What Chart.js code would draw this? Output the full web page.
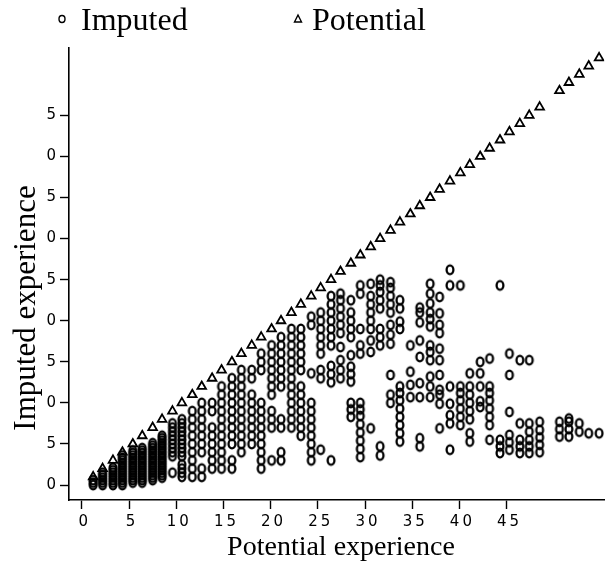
<!DOCTYPE html>
<html>
<head>
<meta charset="utf-8">
<script src="https://cdn.jsdelivr.net/npm/chart.js@4/dist/chart.umd.min.js"></script>
<style>
  body { margin: 0; background: #fff; }
  canvas { display: block; }
</style>
</head>
<body>
<canvas id="expChart" width="611" height="572"></canvas>
<script>
// x position of each column (potential experience)
const colX = [1.2, 2.2, 3.3, 4.3, 5.4, 6.4, 7.5, 8.5, 9.6, 10.6,
    11.7, 12.7, 13.8, 14.8, 15.9, 16.9, 18.0, 19.0, 20.1, 21.1,
    22.2, 23.2, 24.3, 25.3, 26.4, 27.4, 28.5, 29.5, 30.6, 31.6,
    32.7, 33.7, 34.8, 35.8, 36.9, 37.9, 39.0, 40.1, 41.1, 42.2,
    43.2, 44.3, 45.3, 46.4, 47.4, 48.5, 50.6, 51.6, 52.7, 53.7, 54.8];

// triangles: potential experience on the y axis
const potentialY = [1, 2, 3, 4, 5, 6, 7, 8, 9, 10,
    11, 12, 13, 14, 15, 16, 17, 18, 19, 20,
    21, 22, 23, 24, 25, 26, 27, 28, 29, 30,
    31, 32, 33, 34, 35, 36, 37, 38, 39, 40,
    41, 42, 43, 44, 45, 46, 48, 49, 50, 51, 52];

// circles: imputed experience values in each column
const imputedY = [
    [0, 0.3, 0.6],
    [0, 0.3, 0.6, 0.9, 1.2, 1.5],
    [0, 0.3, 0.6, 0.9, 1.2, 1.5, 1.8, 2.1],
    [0, 0.3, 0.6, 0.9, 1.2, 1.5, 1.8, 2.1, 2.4, 2.7, 3, 3.3, 3.6],
    [0.3, 0.6, 0.9, 1.2, 1.5, 1.8, 2.1, 2.4, 2.7, 3, 3.3, 3.6, 3.9, 4.2],
    [0.3, 0.6, 0.9, 1.2, 1.5, 1.8, 2.1, 2.4, 2.7, 3, 3.3, 3.6, 3.9, 4.2, 4.5],
    [0.6, 0.9, 1.2, 1.5, 1.8, 2.1, 2.4, 2.7, 3, 3.3, 3.6, 3.9, 4.2, 4.5, 4.8, 5.1],
    [0.9, 1.2, 1.5, 1.8, 2.1, 2.4, 2.7, 3, 3.3, 3.6, 3.9, 4.2, 4.5, 4.8, 5.1, 5.4, 5.7, 6],
    [1.5, 3.5, 4, 4.5, 5, 5.5, 6, 6.5, 7, 7.5],
    [1, 1.5, 2, 2.5, 3.5, 4, 4.5, 5, 5.5, 6, 6.5, 7, 7.5, 8],
    [1, 2, 3, 4, 5, 6, 7, 8, 9],
    [1, 2, 4, 5, 6, 7, 8, 9, 10],
    [2, 3, 4, 5, 6, 7, 9, 10],
    [2, 3, 4, 5, 6, 7, 8, 9, 10, 11, 12],
    [2, 3, 5, 6, 7, 8, 9, 10, 11, 12, 13],
    [4, 5, 6, 7, 8, 9, 10, 11, 12, 13, 14],
    [5, 6, 7, 8, 9, 10, 11, 13, 14],
    [2, 3, 4, 5, 6, 7, 8, 9, 10, 14, 15, 16],
    [3, 7, 8, 9, 11, 12, 13, 14, 15, 16, 17],
    [3, 4, 7, 8, 12, 13, 14, 15, 16, 17, 18],
    [7, 8, 9, 10, 11, 12, 13, 14, 15, 16, 17, 18, 19],
    [6, 7, 8, 9, 10, 11, 12, 14, 15, 16, 17, 18, 19],
    [3, 4, 5, 6, 7, 8, 9, 10, 13.6, 19.5, 20.5],
    [4.3, 13, 14, 16, 17, 18, 19, 20, 21],
    [3, 12.5, 13.5, 14.5, 17, 18, 19, 20, 21, 22, 23],
    [13, 14, 15.2, 16.8, 18.5, 19.5, 20.5, 21.5, 22.5, 23.3],
    [8.3, 9.2, 10, 12.6, 13.5, 14.4, 15.8, 18, 19, 20, 21, 22.5],
    [3.4, 4.4, 5.4, 6.4, 7.4, 8.4, 9.2, 10, 16, 17, 19, 23.3, 24.3],
    [6.9, 16.2, 17.6, 19, 20, 21, 22, 23, 24.5],
    [3.6, 4.7, 17, 18, 19, 21.5, 22.5, 23.5, 24.3, 25],
    [10, 11, 13.4, 17.2, 18.3, 19.5, 21, 22, 23, 24, 24.7],
    [5.3, 6.3, 7.3, 8.3, 9.3, 10.3, 11.2, 12, 19, 19.9, 21.5, 22.5],
    [10.7, 12.2, 13.8, 17],
    [4.7, 5.7, 10.7, 12.4, 15.6, 17.6, 19.8, 21, 21.6],
    [10.7, 12, 13.2, 15.2, 16.2, 17, 19.3, 20.2, 21, 22.1, 23.3, 24.5],
    [6.9, 9.9, 11, 11.6, 13.4, 15.2, 16.6, 18.5, 19.5, 20.9, 22.9],
    [4.3, 7.5, 8.5, 9.9, 12, 24.3, 26.2],
    [7.3, 8.3, 9.3, 10.3, 11.2, 12, 24.3],
    [5.3, 6.3, 8, 9, 10, 11, 12, 13.6],
    [9.5, 10.2, 12, 13.6, 15],
    [5.5, 7.3, 8.3, 9.3, 10.3, 11.2, 12, 15.4],
    [3.9, 4.7, 5.5, 24.3],
    [4.3, 5.2, 6.1, 8.9, 13.4, 16],
    [3.9, 4.7, 5.5, 7.5, 15.2],
    [3.9, 4.7, 5.5, 6.5, 7.5, 15.2],
    [4, 4.9, 5.8, 6.7, 7.7],
    [5.9, 6.8, 7.7],
    [5.9, 6.8, 7.7, 8.1],
    [6.5, 7.5],
    [6.3],
    [6.3]
];

const tickValues = [0, 5, 10, 15, 20, 25, 30, 35, 40, 45];
const legendLabels = ['Imputed', 'Potential'];
const xTitle = 'Potential experience';
const yTitle = 'Imputed experience';

function buildImputed() {
    const pts = [];
    imputedY.forEach((col, i) => {
        col.forEach(v => pts.push({ x: colX[i], y: v }));
    });
    return pts;
}

function buildPotential() {
    return potentialY.map((v, i) => ({ x: colX[i], y: v }));
}

// slightly tall hollow "o" marker, like the printed symbol
function makeOval() {
    const c = document.createElement('canvas');
    c.width = 12;
    c.height = 14;
    const g = c.getContext('2d');
    g.strokeStyle = '#000';
    g.lineWidth = 2.3;
    g.beginPath();
    g.ellipse(6, 7, 3.4, 4.3, 0, 0, Math.PI * 2);
    g.stroke();
    return c;
}

const serif = '"Liberation Serif", "Times New Roman", serif';
const tickFont = { family: '"DejaVu Sans", sans-serif', size: 15 };

// wide spacing for the tick digits, like the scanned axis labels
const spacingPlugin = {
    id: 'spacing',
    beforeDraw(chart) {
        chart.ctx.letterSpacing = '3px';
    },
    beforeDatasetsDraw(chart) {
        chart.ctx.letterSpacing = '0px';
    }
};

// legend and axis titles drawn by hand so they sit where the scan has them
const textPlugin = {
    id: 'texts',
    afterDraw(chart) {
        const ctx = chart.ctx;
        ctx.save();
        ctx.letterSpacing = '0px';
        ctx.fillStyle = '#000';
        ctx.strokeStyle = '#000';
        ctx.lineWidth = 1.4;
        ctx.font = '32px ' + serif;
        ctx.textBaseline = 'alphabetic';
        ctx.textAlign = 'left';

        ctx.beginPath();
        ctx.ellipse(62, 19, 3, 3.5, 0, 0, Math.PI * 2);
        ctx.stroke();
        ctx.fillText(legendLabels[0], 81, 30);

        ctx.beginPath();
        ctx.moveTo(298, 15);
        ctx.lineTo(301.5, 22);
        ctx.lineTo(294.5, 22);
        ctx.closePath();
        ctx.stroke();
        ctx.fillText(legendLabels[1], 312, 30);

        ctx.textAlign = 'center';
        ctx.textBaseline = 'middle';
        ctx.font = '28px ' + serif;
        ctx.fillText(xTitle, 341, 548);

        ctx.font = '31px ' + serif;
        ctx.translate(27, 308);
        ctx.rotate(-Math.PI / 2);
        ctx.fillText(yTitle, 0, 0);
        ctx.restore();
    }
};

function axisOptions(min, max) {
    return {
        type: 'linear',
        min: min,
        max: max,
        afterBuildTicks: scale => {
            scale.ticks = tickValues.map(v => ({ value: v }));
        },
        grid: {
            drawOnChartArea: false,
            drawTicks: true,
            tickLength: 9,
            tickWidth: 1.4,
            color: '#000'
        },
        border: { display: true, color: '#000', width: 1.6 },
        ticks: { font: tickFont, color: '#000', padding: 4, maxRotation: 0 }
    };
}

function createChart() {
    const ctx = document.getElementById('expChart').getContext('2d');
    const xOpts = axisOptions(-1.36, 55.34);
    xOpts.afterFit = scale => { scale.height = 72; };
    xOpts.ticks.labelOffset = 3;
    const yOpts = axisOptions(-1.82, 53.2);
    yOpts.afterFit = scale => { scale.width = 69; };
    yOpts.ticks.padding = 1;
    yOpts.ticks.callback = v => String(v % 10);

    new Chart(ctx, {
        type: 'scatter',
        data: {
            datasets: [
                {
                    label: legendLabels[0],
                    data: buildImputed(),
                    pointStyle: makeOval(),
                    pointRadius: 4.2,
                    borderColor: '#000',
                    backgroundColor: 'rgba(0,0,0,0)',
                    borderWidth: 2
                },
                {
                    label: legendLabels[1],
                    data: buildPotential(),
                    pointStyle: 'triangle',
                    pointRadius: 5,
                    borderColor: '#000',
                    backgroundColor: 'rgba(0,0,0,0)',
                    borderWidth: 1.8
                }
            ]
        },
        options: {
            responsive: false,
            animation: false,
            layout: { padding: { top: 48, right: 0, bottom: 0, left: 0 } },
            scales: { x: xOpts, y: yOpts },
            plugins: {
                legend: { display: false },
                tooltip: { enabled: false }
            }
        },
        plugins: [spacingPlugin, textPlugin]
    });
}

window.onload = function() {
    createChart();
};
</script>
</body>
</html>
